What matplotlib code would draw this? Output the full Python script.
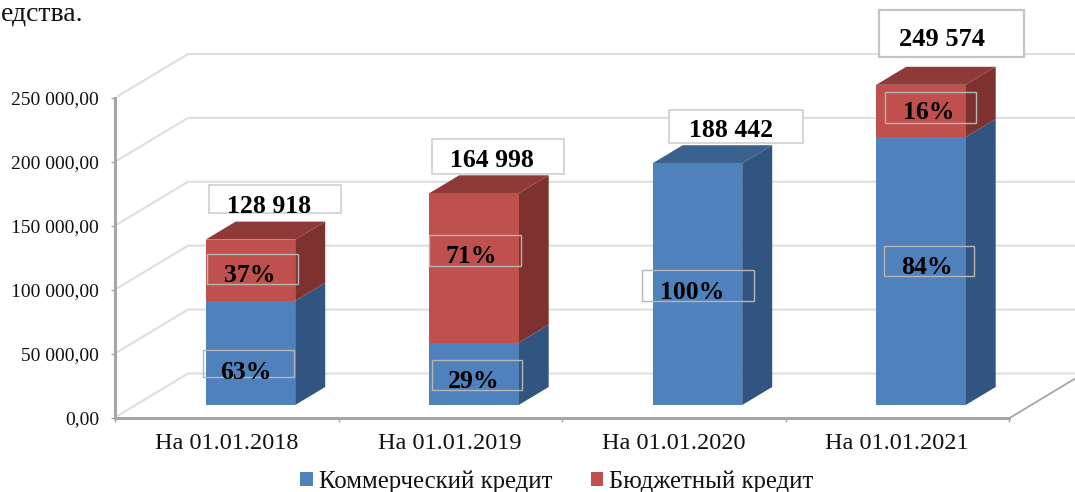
import matplotlib
matplotlib.use('Agg')
import matplotlib.pyplot as plt
from matplotlib.patches import Polygon, Rectangle

WIDTH = 1075
HEIGHT = 492

categories = ['На 01.01.2018', 'На 01.01.2019', 'На 01.01.2020', 'На 01.01.2021']
commercial = [81200, 48600, 188442, 208900]
budget = [47718, 116398, 0, 40674]
total_labels = ['128 918', '164 998', '188 442', '249 574']
y_ticks = [0, 50000, 100000, 150000, 200000, 250000]
series_names = ['Коммерческий кредит', 'Бюджетный кредит']

BLUE = '#4f81bd'
BLUE_SIDE = '#325480'
BLUE_TOP = '#3b618f'
RED = '#c0504d'
RED_SIDE = '#7d3230'
RED_TOP = '#8e3a38'

plt.rcParams['font.family'] = ['Liberation Serif', 'DejaVu Serif']


def fx(px):
    return px / WIDTH


def fy(px):
    return 1 - px / HEIGHT


def box(x0, y0, x1, y1, color, lw, fill=None):
    fig.add_artist(Rectangle((fx(x0), fy(y1)), fx(x1) - fx(x0), fy(y0) - fy(y1),
                             transform=fig.transFigure, edgecolor=color, linewidth=lw,
                             facecolor=fill if fill else 'none', zorder=5))


def label(x, y, s, size):
    # y is the middle of the digits, so go down to the baseline
    base = y + 0.338 * size * 100 / 72
    fig.text(fx(x), fy(base), s, ha='center', va='baseline', fontsize=size,
             fontweight='bold', color='black', zorder=6)


def tick_text(v):
    if v == 0:
        return '0,00'
    return f'{v:,.2f}'.replace(',', ' ').replace('.', ',')


fig = plt.figure(figsize=(WIDTH / 100, HEIGHT / 100), dpi=100)
pos = [fx(115), fy(417.5), fx(1009) - fx(115), fy(98) - fy(417.5)]

# main axes: y axis, category axis and the walls
ax = fig.add_axes(pos)
ax.set_xlim(-0.5, 3.5)
ax.set_ylim(0, 250000)
for s in ['top', 'right']:
    ax.spines[s].set_visible(False)
for s in ['left', 'bottom']:
    ax.spines[s].set_color('#a6a6a6')
    ax.spines[s].set_linewidth(2.2)
ax.set_yticks(y_ticks)
ax.set_yticklabels([tick_text(v) for v in y_ticks])
ax.tick_params(axis='y', length=3, width=1, color='#a6a6a6', labelsize=14, pad=8.5, labelcolor='#111111')
ax.set_xticks([-0.5, 0.5, 1.5, 2.5, 3.5])
ax.set_xticklabels([])
ax.set_xticks([0, 1, 2, 3], minor=True)
ax.set_xticklabels(categories, minor=True)
ax.tick_params(axis='x', which='major', length=3, width=1, color='#a6a6a6', direction='out')
ax.tick_params(axis='x', which='minor', length=0, labelsize=17.5, pad=11, labelcolor='#111111')

# wall depth, in data units of the main axes
wall_dx = 73 / 223.5
wall_dy = 44 / 319.5 * 250000
for v in y_ticks:
    ax.plot([-0.5 + 3 / 223.5, -0.5 + wall_dx, 3.8], [v + 1500, v + wall_dy, v + wall_dy],
            color='#dedede', lw=1.5, clip_on=False, zorder=1, solid_joinstyle='miter')
ax.plot([3.5, 3.5 + wall_dx], [-700, wall_dy - 700], color='#a6a6a6', lw=1.3, clip_on=False, zorder=1)

# second axes on top for the bars, they stand in front of the axis plane
bar_ax = fig.add_axes(pos, facecolor='none')
bar_ax.axis('off')
px_per_value = 1.283 / 1000
bar_shift = 23.7 / 223.5
bar_ax.set_xlim(-0.5 - bar_shift, 3.5 - bar_shift)
bar_ax.set_ylim(-12.5 / px_per_value, 307 / px_per_value)

bar_w = 89.5 / 223.5
depth_x = 30 / 223.5
depth_y = 18 / px_per_value
xs = list(range(len(categories)))

bars_c = bar_ax.bar(xs, commercial, bar_w, color=BLUE, zorder=3, label=series_names[0], clip_on=False)
bars_b = bar_ax.bar(xs, budget, bar_w, bottom=commercial, color=RED, zorder=3, label=series_names[1], clip_on=False)

for x, c, b in zip(xs, commercial, budget):
    right = x + bar_w / 2
    left = x - bar_w / 2
    top = c + b
    bar_ax.add_patch(Polygon([(right, 0), (right + depth_x, depth_y), (right + depth_x, c + depth_y), (right, c)],
                             facecolor=BLUE_SIDE, edgecolor='none', zorder=2, clip_on=False))
    if b > 0:
        bar_ax.add_patch(Polygon([(right, c), (right + depth_x, c + depth_y), (right + depth_x, top + depth_y), (right, top)],
                                 facecolor=RED_SIDE, edgecolor='none', zorder=2, clip_on=False))
    bar_ax.add_patch(Polygon([(left, top), (left + depth_x, top + depth_y), (right + depth_x, top + depth_y), (right, top)],
                             facecolor=RED_TOP if b > 0 else BLUE_TOP, edgecolor='none', zorder=2, clip_on=False))

# boxes with the totals
box(208.7, 185, 341, 213, '#cccccc', 1.1, 'white')
label(269, 204, total_labels[0], 18.5)
box(431.7, 139, 564, 173.7, '#cccccc', 1.1, 'white')
label(492, 158, total_labels[1], 18.5)
box(669, 110, 803, 143, '#cccccc', 1.1, 'white')
label(731, 128, total_labels[2], 18.5)
box(878.7, 10, 1024, 57, '#c4c4c4', 1.6, 'white')
label(942, 37, total_labels[3], 19)

# shares inside the bars
box(207, 254.3, 298, 284, '#b5b5b5', 1)
label(250, 273, '37%', 18.5)
box(202.7, 349.7, 294, 377, '#b5b5b5', 1)
label(246, 370, '63%', 18.5)
box(429, 235, 520.7, 265.7, '#b5b5b5', 1)
label(471.7, 254, '71%', 18.5)
box(431.7, 360, 522, 389.7, '#b5b5b5', 1)
label(474, 379, '29%', 18.5)
box(641.7, 270, 753.7, 301, '#b5b5b5', 1)
label(692, 290, '100%', 18.5)
box(885, 91.7, 975.7, 122.7, '#b5b5b5', 1)
label(929, 110.7, '16%', 18.5)
box(884, 246, 974, 276, '#b5b5b5', 1)
label(927, 265, '84%', 18.5)

# leftover of the document text above the chart
fig.text(fx(84), fy(21), 'едства.', ha='right', va='baseline', fontsize=20, color='#111111')

fig.legend(handles=[bars_c, bars_b], labels=series_names, loc='center', ncol=2, frameon=False,
           bbox_to_anchor=(fx(557), fy(481.5)), fontsize=17.8, handlelength=0.5, handleheight=0.5,
           handletextpad=0.25, columnspacing=1.55, labelcolor='#111111',
           borderpad=0, borderaxespad=0)

fig.savefig('out.png', dpi=100)
